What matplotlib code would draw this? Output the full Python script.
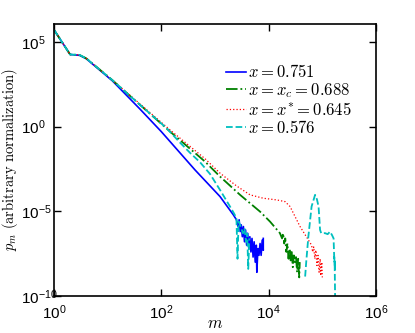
import numpy as np
import matplotlib
matplotlib.use('Agg')
import matplotlib.pyplot as plt
from matplotlib.font_manager import FontProperties

plt.rcParams['font.family'] = ['Liberation Sans', 'DejaVu Sans']

# log10(m), log10(p_m), nan = gap in the data
logm_blue = [0, 0.301, 0.477, 0.602, 1.087, 1.603, 2.0, 2.628, 3.094, 3.34,
             3.40, 3.43, 3.45, 3.47, 3.49, 3.51, 3.53, 3.55, 3.57, 3.59, 3.61,
             3.63, 3.65, 3.67, 3.69, 3.71, 3.73, 3.75, 3.77, 3.78, 3.80, 3.82,
             3.84, 3.86, 3.88, 3.90, 3.90]
logp_blue = [5.71, 4.25, 4.20, 4.00, 2.70, 1.03, -0.30, -2.56, -4.13, -5.20,
             -5.5, -5.9, -5.5, -6.2, -5.8, -6.5, -5.9, -6.8, -6.1, -7.0, -6.3,
             -7.2, -6.5, -7.4, -6.6, -7.7, -6.8, -8.0, -7.0, -8.6, -7.2, -7.6,
             -6.9, -7.6, -6.7, -7.3, -6.6]

logm_green = [0, 0.301, 0.477, 0.602, 1.087, 1.603, 2.2, 2.815, 3.094, 3.467,
              3.84, 4.026, 4.21, 4.25, 4.27, 4.29, 4.31, 4.33, 4.35, 4.37, 4.39,
              4.41, 4.43, 4.45, 4.47, 4.49, 4.51, 4.53, 4.55, 4.57, 4.58]
logp_green = [5.71, 4.25, 4.22, 4.02, 2.74, 1.28, -0.40, -2.07, -2.95, -4.03,
              -5.02, -5.61, -6.29, -6.6, -6.3, -6.9, -6.6, -7.4, -6.9, -7.8, -7.2,
              -7.9, -7.4, -8.3, -7.6, -8.0, -7.7, -8.6, -7.8, -8.9, -8.0]

logm_red = [0, 0.301, 0.477, 0.602, 1.087, 1.603, 2.2, 2.815, 3.094, 3.4,
            3.653, 3.90, 4.151, 4.306, 4.399, 4.585, 4.74, 4.80, 4.82, 4.84,
            4.86, 4.88, 4.90, 4.92, 4.94, 4.96, 4.97, 4.99, 5.00]
logp_red = [5.71, 4.25, 4.22, 4.02, 2.74, 1.33, -0.30, -1.90, -2.75, -3.50,
            -4.03, -4.23, -4.33, -4.43, -4.72, -5.90, -6.69, -7.0, -7.4, -7.1,
            -7.8, -7.3, -8.2, -7.6, -8.6, -7.8, -8.8, -8.0, -8.9]

logm_cyan = [0, 0.301, 0.477, 0.602, 1.087, 1.603, 2.1, 2.349, 2.535, 2.72,
             2.908, 3.094, 3.28, 3.35, 3.40, 3.42, 3.44, 3.48, 3.52, 3.55, 3.58,
             3.60, 3.62, 3.64, np.nan,
             4.68, 4.70, 4.74, 4.80, 4.865, 4.90, 4.93, 4.958, 4.98, 5.05, 5.10,
             5.144, 5.18, 5.21, 5.22, 5.23, 5.22, 5.24, 5.23, 5.24]
logp_cyan = [5.71, 4.25, 4.22, 4.02, 2.74, 1.28, -0.10, -0.95, -1.55, -2.10,
             -2.80, -3.74, -4.72, -5.10, -5.40, -7.8, -5.6, -5.9, -6.3, -6.0, -6.8,
             -6.3, -8.4, -6.6, np.nan,
             -8.85, -8.0, -6.49, -4.72, -4.03, -4.30, -4.72, -6.10, -6.30, -6.29, -6.35,
             -6.20, -6.40, -6.60, -7.6, -8.0, -7.7, -8.46, -8.0, -10.5]

labels = [r'$x = 0.751$', r'$x = x_c = 0.688$', r'$x = x^{*} = 0.645$', r'$x = 0.576$']

fig = plt.figure(figsize=(4.15, 3.33), dpi=100)
ax = fig.add_axes([0.130, 0.111, 0.776, 0.817])

def pw(a):
    return 10.0 ** np.array(a, dtype=float)

ax.plot(pw(logm_blue), pw(logp_blue), '-', color='b', lw=1.2, label=labels[0])
ax.plot(pw(logm_green), pw(logp_green), '-.', color=(0, 0.5, 0), lw=1.3, label=labels[1])
ax.plot(pw(logm_red), pw(logp_red), ':', color='r', lw=0.9, label=labels[2])
ax.plot(pw(logm_cyan), pw(logp_cyan), '--', color=(0, 0.75, 0.75), lw=1.3, label=labels[3])

ax.set_xscale('log')
ax.set_yscale('log')
ax.set_xlim(1, 1e6)
ax.set_ylim(1e-10, 10 ** 6.05)
ax.set_xticks([1, 1e2, 1e4, 1e6])
ax.set_yticks([1e-10, 1e-5, 1, 1e5])
ax.minorticks_off()
ax.tick_params(direction='in', top=True, right=True, length=5, width=1, labelsize=11)
ax.tick_params(axis='y', pad=24)
ax.tick_params(axis='x', pad=5)
for t in ax.get_yticklabels():
    t.set_horizontalalignment('left')
for s in ax.spines.values():
    s.set_linewidth(1.2)

ax.set_xlabel(r'$m$', fontsize=12, math_fontfamily='cm', labelpad=-4)
ax.set_ylabel(r'$p_m\ \mathrm{(arbitrary\ normalization)}$', fontsize=10.5,
              math_fontfamily='cm')
ax.yaxis.set_label_coords(-0.106, 0.5)

leg = ax.legend(loc='upper left', bbox_to_anchor=(0.535, 0.855), frameon=False,
                prop=FontProperties(size=12, math_fontfamily='cm'),
                handlelength=1.2, handletextpad=0.1, labelspacing=0.05,
                borderpad=0, borderaxespad=0)

fig.savefig('out.png', dpi=100)
